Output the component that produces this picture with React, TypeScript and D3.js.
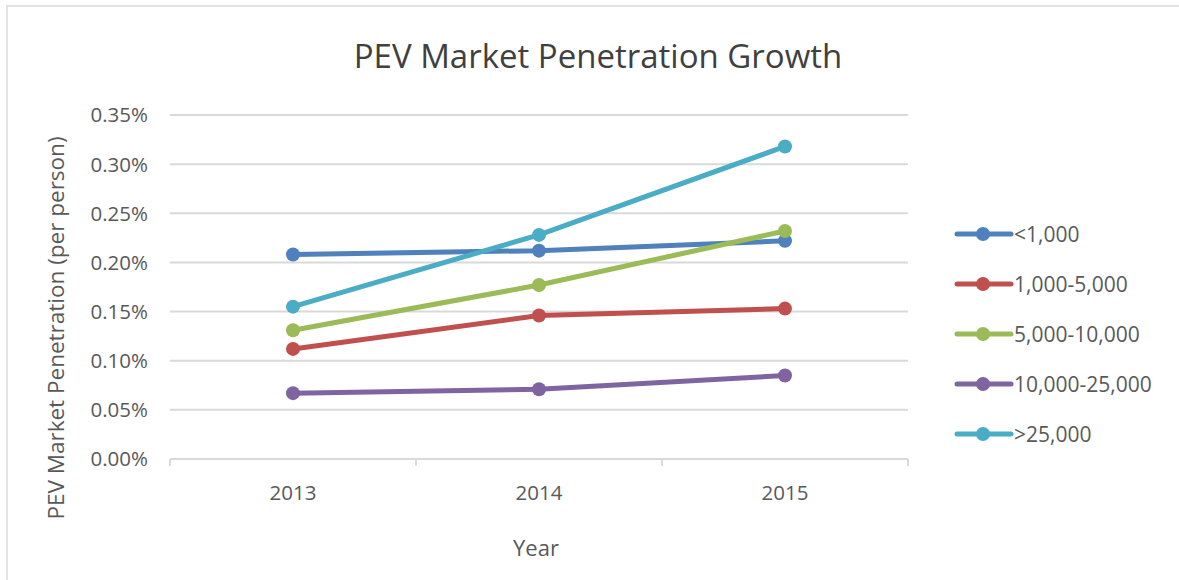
import React from "react";
import * as d3 from "d3";

const years = ["2013", "2014", "2015"];
const seriesNames = ["<1,000", "1,000-5,000", "5,000-10,000", "10,000-25,000", ">25,000"];
const lt1000 = [0.00208, 0.00212, 0.00222];
const s1000to5000 = [0.00112, 0.00146, 0.00153];
const s5000to10000 = [0.00131, 0.00177, 0.00232];
const s10000to25000 = [0.00067, 0.00071, 0.00085];
const gt25000 = [0.00155, 0.00228, 0.00318];
const yTicks = [0, 0.0005, 0.001, 0.0015, 0.002, 0.0025, 0.003, 0.0035];
const colors = ["#4F81BD", "#C0504D", "#9BBB59", "#8064A2", "#4BACC6"];

const seriesValues = [lt1000, s1000to5000, s5000to10000, s10000to25000, gt25000];

export default function App() {
  const W = 1179;
  const H = 580;
  const plotLeft = 170;
  const plotRight = 908;
  const x = d3.scaleBand<string>().domain(years).range([plotLeft, plotRight]).padding(0);
  const y = d3.scaleLinear().domain([0, 0.0035]).range([459, 115]);
  const cx = (yr: string) => (x(yr) ?? 0) + x.bandwidth() / 2;
  const line = d3
    .line<number>()
    .x((_, i) => cx(years[i]))
    .y((d) => y(d));
  const fmt = d3.format(".2%");
  const font = "'Open Sans', 'Noto Sans', sans-serif";
  const textColor = "#595959";
  const grid = "#d9d9d9";
  const legendY = d3.scalePoint<string>().domain(seriesNames).range([234, 434]);

  return (
    <svg
      width={W}
      height={H}
      style={{ position: "absolute", left: 0, top: 0, background: "#fff" }}
      fontFamily={font}
    >
      <rect x={0} y={0} width={W} height={H} fill="#fff" />
      <line x1={6} y1={6} x2={W} y2={6} stroke="#e3e3e3" strokeWidth={2} />
      <line x1={7} y1={6} x2={7} y2={H} stroke="#e3e3e3" strokeWidth={2} />

      <text x={598} y={68} textAnchor="middle" fontSize={33} fill="#404040">
        PEV Market Penetration Growth
      </text>

      {yTicks.map((t) =>
        t > 0 ? (
          <line key={"g" + t} x1={plotLeft} x2={plotRight} y1={y(t)} y2={y(t)} stroke={grid} strokeWidth={2} />
        ) : null
      )}
      {yTicks.map((t) => (
        <text
          key={"l" + t}
          x={148}
          y={y(t)}
          dy="0.36em"
          textAnchor="end"
          fontSize={20.5}
          fill={textColor}
        >
          {fmt(t)}
        </text>
      ))}

      <line x1={plotLeft} x2={plotRight} y1={y(0)} y2={y(0)} stroke={grid} strokeWidth={2} />
      {[...years.map((yr) => x(yr) ?? 0), plotRight].map((p, i) => (
        <line key={"t" + i} x1={p} x2={p} y1={y(0)} y2={y(0) + 7} stroke={grid} strokeWidth={2} />
      ))}
      {years.map((yr) => (
        <text key={yr} x={cx(yr)} y={500} textAnchor="middle" fontSize={20.5} fill={textColor}>
          {yr}
        </text>
      ))}

      <text x={536} y={556} textAnchor="middle" fontSize={22} fill={textColor}>
        Year
      </text>
      <text
        transform={`translate(64, 328) rotate(-90)`}
        textAnchor="middle"
        fontSize={22.5}
        fill={textColor}
      >
        PEV Market Penetration (per person)
      </text>

      {seriesValues.map((vals, si) => (
        <g key={seriesNames[si]}>
          <path d={line(vals) ?? ""} fill="none" stroke={colors[si]} strokeWidth={5} strokeLinecap="round" />
          {vals.map((v, i) => (
            <circle key={i} cx={cx(years[i])} cy={y(v)} r={7} fill={colors[si]} />
          ))}
        </g>
      ))}

      {seriesNames.map((name, si) => {
        const ly = legendY(name) ?? 0;
        return (
          <g key={"lg" + name}>
            <line x1={957} x2={1011} y1={ly} y2={ly} stroke={colors[si]} strokeWidth={5} strokeLinecap="round" />
            <circle cx={983} cy={ly} r={7} fill={colors[si]} />
            <text x={1014} y={ly} dy="0.36em" fontSize={21} fill={textColor}>
              {name}
            </text>
          </g>
        );
      })}
    </svg>
  );
}
